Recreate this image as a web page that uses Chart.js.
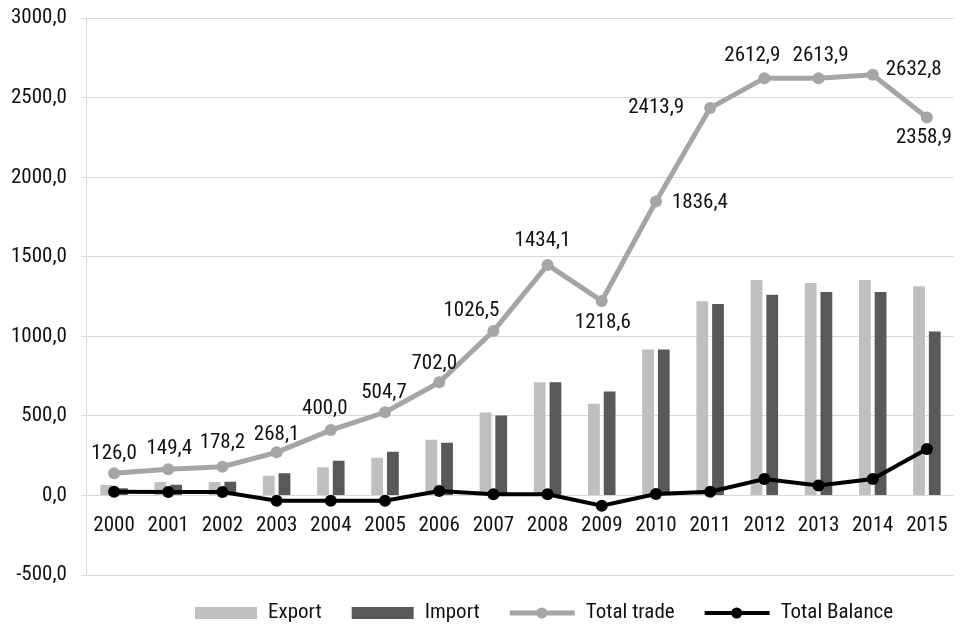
<!DOCTYPE html>
<html>
<head>
<meta charset="utf-8">
<script src="https://cdn.jsdelivr.net/npm/chart.js@4"></script>
<style>
  html, body { margin: 0; padding: 0; background: #fff; }
  #wrap { width: 960px; height: 627px; position: relative; }
</style>
</head>
<body>
<div id="wrap"><canvas id="tradeChart"></canvas></div>
<script>
// data
const years = ['2000', '2001', '2002', '2003', '2004', '2005', '2006', '2007',
               '2008', '2009', '2010', '2011', '2012', '2013', '2014', '2015'];
const exportValues = [65, 84, 84, 124, 178, 237, 350, 522, 711, 577, 918, 1220, 1354, 1335, 1354, 1315];
const importValues = [45, 67, 86, 140, 218, 275, 331, 503, 711, 654, 918, 1203, 1262, 1279, 1279, 1031];
const totalTrade = [139, 164, 181, 271, 411, 523, 711, 1034, 1449, 1223, 1848, 2435, 2623, 2623, 2644, 2376];
const totalBalance = [24, 21, 21, -33, -33, -33, 28, 7, 7, -64, 9, 24, 103, 63, 103, 292];
const tradeLabels = ['126,0', '149,4', '178,2', '268,1', '400,0', '504,7', '702,0', '1026,5',
                     '1434,1', '1218,6', '1836,4', '2413,9', '2612,9', '2613,9', '2632,8', '2358,9'];
const yMin = -500, yMax = 3000, yStep = 500;

// where each trade label sits relative to its point (px)
const labelOffsets = [
  [0, -20], [1, -21], [0, -24], [0, -18], [-6, -21], [-1, -20], [-5, -19], [-22, -20],
  [-5, -24], [1, 22], [44, 1], [-54, 0], [-12, -22], [2, -22], [41, -5], [-3, 20]
];

const FONT = "'Roboto Condensed', 'DejaVu Sans Condensed', sans-serif";
const FONT_SIZE = 21;
const TEXT = '#111';
const GRID = '#d9d9d9';

const fmt = v => v.toFixed(1).replace('.', ',');

// labels on the total trade line
const tradeLabelPlugin = {
  id: 'tradeLabels',
  afterDatasetsDraw(chart) {
    const meta = chart.getDatasetMeta(2);
    const ctx = chart.ctx;
    ctx.save();
    ctx.font = FONT_SIZE + 'px ' + FONT;
    ctx.fillStyle = TEXT;
    ctx.textAlign = 'center';
    ctx.textBaseline = 'middle';
    meta.data.forEach((pt, i) => {
      const off = labelOffsets[i];
      ctx.fillText(tradeLabels[i], pt.x + off[0], pt.y + off[1]);
    });
    ctx.restore();
  }
};

// legend drawn under the plot
const legendPlugin = {
  id: 'bottomLegend',
  afterDraw(chart) {
    const ctx = chart.ctx;
    const y = 613;
    let x = 195;
    ctx.save();
    ctx.font = FONT_SIZE + 'px ' + FONT;
    ctx.textBaseline = 'middle';
    chart.data.datasets.forEach(ds => {
      if (ds.type === 'bar') {
        ctx.fillStyle = ds.backgroundColor;
        ctx.fillRect(x, y - 6, 62, 12);
        x += 62;
      } else {
        ctx.strokeStyle = ds.borderColor;
        ctx.lineWidth = ds.borderWidth;
        ctx.beginPath();
        ctx.moveTo(x, y);
        ctx.lineTo(x + 65, y);
        ctx.stroke();
        ctx.fillStyle = ds.pointBackgroundColor;
        ctx.beginPath();
        ctx.arc(x + 32, y, 5.5, 0, Math.PI * 2);
        ctx.fill();
        x += 65;
      }
      x += 11;
      ctx.fillStyle = TEXT;
      ctx.fillText(ds.label, x, y);
      x += ctx.measureText(ds.label).width + 30;
    });
    ctx.restore();
  }
};

const ctx = document.getElementById('tradeChart').getContext('2d');
new Chart(ctx, {
  data: {
    labels: years,
    datasets: [
      {
        type: 'bar', label: 'Export', data: exportValues,
        backgroundColor: '#bfbfbf', order: 3,
        categoryPercentage: 0.58, barPercentage: 0.75
      },
      {
        type: 'bar', label: 'Import', data: importValues,
        backgroundColor: '#595959', order: 3,
        categoryPercentage: 0.58, barPercentage: 0.75
      },
      {
        type: 'line', label: 'Total trade', data: totalTrade,
        borderColor: '#a5a5a5', borderWidth: 5,
        pointBackgroundColor: '#a5a5a5', pointBorderColor: '#a5a5a5',
        pointRadius: 6, pointBorderWidth: 0, tension: 0, order: 2
      },
      {
        type: 'line', label: 'Total Balance', data: totalBalance,
        borderColor: '#000000', borderWidth: 4,
        pointBackgroundColor: '#000000', pointBorderColor: '#000000',
        pointRadius: 6, pointBorderWidth: 0, tension: 0, order: 1
      }
    ]
  },
  options: {
    responsive: true,
    maintainAspectRatio: false,
    animation: false,
    layout: { padding: { left: -3, right: -6, top: 0, bottom: 52 } },
    plugins: {
      legend: { display: false },
      tooltip: { enabled: false }
    },
    scales: {
      x: {
        type: 'category',
        position: { y: 0 },
        offset: true,
        grid: { display: false, drawTicks: true, tickLength: 18 },
        border: { display: false },
        ticks: {
          color: TEXT, padding: 0, maxRotation: 0, autoSkip: false,
          font: { family: FONT, size: FONT_SIZE }
        }
      },
      y: {
        min: yMin, max: yMax,
        grid: { color: GRID, lineWidth: 1, tickLength: 6 },
        border: { display: true, color: GRID, width: 1 },
        ticks: {
          stepSize: yStep, padding: 14, color: TEXT,
          font: { family: FONT, size: FONT_SIZE, lineHeight: 0.4 },
          callback: v => fmt(v)
        }
      }
    }
  },
  plugins: [tradeLabelPlugin, legendPlugin]
});
</script>
</body>
</html>
